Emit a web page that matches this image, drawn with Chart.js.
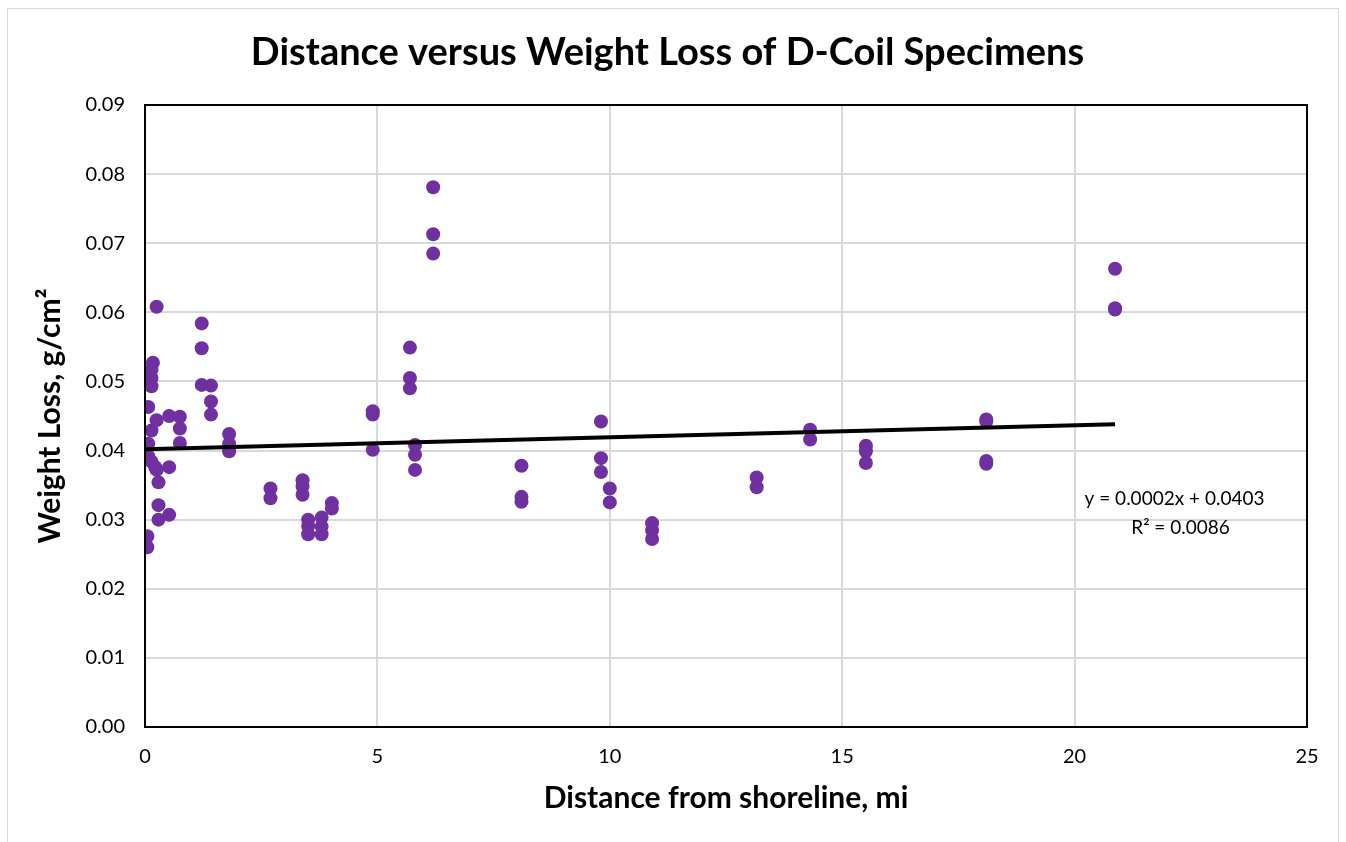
<!DOCTYPE html>
<html>
<head>
<meta charset="utf-8">
<script src="https://cdn.jsdelivr.net/npm/chart.js@4"></script>
<style>
  html, body { margin: 0; padding: 0; background: #fff; }
  #wrap { position: relative; width: 1346px; height: 842px; }
  #frame { position: absolute; left: 7px; top: 8px; width: 1332px; height: 840px; border: 1px solid #d9d9d9; box-sizing: border-box; }
  canvas { position: absolute; left: 0; top: 0; }
</style>
</head>
<body>
<div id="wrap">
  <div id="frame"></div>
  <canvas id="chart" width="1346" height="842"></canvas>
</div>
<script>
// Measured specimens: distance from shoreline (mi) and weight loss (g/cm2)
const distance = [
  0.05, 0.05,
  0.07, 0.07, 0.07,
  0.14, 0.14, 0.14, 0.14, 0.14,
  0.17, 0.22,
  0.25, 0.25, 0.25,
  0.29, 0.29, 0.29,
  0.52, 0.52, 0.52,
  0.75, 0.75, 0.75,
  1.22, 1.22, 1.22,
  1.42, 1.42, 1.42,
  1.81, 1.81, 1.81,
  2.70, 2.70,
  3.39, 3.39, 3.39,
  3.51, 3.51, 3.51,
  3.80, 3.80, 3.80,
  4.02, 4.02,
  4.90, 4.90, 4.90,
  5.70, 5.70, 5.70,
  5.81, 5.81, 5.81,
  6.20, 6.20, 6.20,
  8.10, 8.10, 8.10,
  9.81, 9.81, 9.81,
  10.00, 10.00,
  10.91, 10.91, 10.91,
  13.16, 13.16,
  14.31, 14.31,
  15.51, 15.51, 15.51,
  18.10, 18.10, 18.10, 18.10,
  20.87, 20.87, 20.87
];
const weightLoss = [
  0.0276, 0.0260,
  0.0463, 0.0410, 0.0392,
  0.0517, 0.0505, 0.0493, 0.0429, 0.0384,
  0.0527, 0.0376,
  0.0608, 0.0444, 0.0372,
  0.0354, 0.0321, 0.0300,
  0.0450, 0.0376, 0.0307,
  0.0449, 0.0432, 0.0411,
  0.0584, 0.0548, 0.0495,
  0.0494, 0.0471, 0.0452,
  0.0424, 0.0410, 0.0399,
  0.0345, 0.0331,
  0.0357, 0.0348, 0.0336,
  0.0300, 0.0291, 0.0279,
  0.0303, 0.0290, 0.0279,
  0.0324, 0.0316,
  0.0457, 0.0452, 0.0401,
  0.0549, 0.0505, 0.0490,
  0.0408, 0.0394, 0.0372,
  0.0781, 0.0713, 0.0685,
  0.0378, 0.0333, 0.0326,
  0.0442, 0.0389, 0.0369,
  0.0345, 0.0325,
  0.0295, 0.0285, 0.0272,
  0.0361, 0.0347,
  0.0430, 0.0416,
  0.0407, 0.0399, 0.0382,
  0.0445, 0.0442, 0.0385, 0.0381,
  0.0663, 0.0606, 0.0604
];

// Linear trendline endpoints
const trendX = [0, 20.87];
const trendY = [0.0402, 0.0438];
const trendLabel = ["y = 0.0002x + 0.0403", "R\u00b2 = 0.0086"];
const trendLabelAt = { x: 22.15, y: 0.0330 };

const FONT = "Lato, 'Open Sans', sans-serif";

// Draws the trendline equation next to the line
const equationPlugin = {
  id: "equation",
  afterDatasetsDraw(chart) {
    const { ctx, scales } = chart;
    const px = scales.x.getPixelForValue(trendLabelAt.x);
    const py = scales.y.getPixelForValue(trendLabelAt.y);
    ctx.save();
    ctx.fillStyle = "#000";
    ctx.font = "19px " + FONT;
    ctx.textAlign = "center";
    ctx.textBaseline = "middle";
    ctx.fillText(trendLabel[0], px, py);
    ctx.fillText(trendLabel[1], px + 6, py + 29);
    ctx.restore();
  }
};

// Black border round the plot area
const borderPlugin = {
  id: "plotBorder",
  afterDraw(chart) {
    const { ctx, chartArea: a } = chart;
    ctx.save();
    ctx.strokeStyle = "#000";
    ctx.lineWidth = 2;
    ctx.strokeRect(a.left, a.top, a.right - a.left, a.bottom - a.top);
    ctx.restore();
  }
};

new Chart(document.getElementById("chart"), {
  type: "scatter",
  data: {
    datasets: [
      {
        label: "Weight loss",
        data: distance.map((d, i) => ({ x: d, y: weightLoss[i] })),
        backgroundColor: "#7030A0",
        borderColor: "#7030A0",
        pointRadius: 7,
        borderWidth: 0,
        order: 2
      },
      {
        label: "Linear",
        type: "line",
        data: trendX.map((d, i) => ({ x: d, y: trendY[i] })),
        borderColor: "#000",
        borderWidth: 4,
        pointRadius: 0,
        fill: false,
        order: 1
      }
    ]
  },
  options: {
    responsive: false,
    animation: false,
    layout: { padding: { left: 28, right: 39, top: 0, bottom: 22 } },
    plugins: {
      legend: { display: false },
      tooltip: { enabled: false },
      title: {
        display: true,
        text: "Distance versus Weight Loss of D-Coil Specimens",
        color: "#000",
        font: { family: FONT, size: 38, weight: "bold" },
        padding: { top: 30, bottom: 29.4 }
      }
    },
    scales: {
      x: {
        type: "linear",
        min: 0,
        max: 25,
        ticks: { stepSize: 5, color: "#000", font: { family: FONT, size: 20 }, padding: 18 },
        grid: { color: "#d9d9d9", lineWidth: 2, drawTicks: false },
        border: { display: false },
        title: {
          display: true,
          text: "Distance from shoreline, mi",
          color: "#000",
          font: { family: FONT, size: 30, weight: "bold" },
          padding: { top: 4, bottom: 4 }
        },
        afterFit(s) { s.height = 93; }
      },
      y: {
        type: "linear",
        min: 0,
        max: 0.09,
        ticks: {
          stepSize: 0.01,
          color: "#000",
          font: { family: FONT, size: 20 },
          padding: 20,
          callback: v => v.toFixed(2)
        },
        grid: { color: "#d9d9d9", lineWidth: 2, drawTicks: false },
        border: { display: false },
        title: {
          display: true,
          text: "Weight Loss, g/cm\u00b2",
          color: "#000",
          font: { family: FONT, size: 30, weight: "bold" }
        },
        afterFit(s) { s.width = 117; }
      }
    }
  },
  plugins: [equationPlugin, borderPlugin]
});
</script>
</body>
</html>
